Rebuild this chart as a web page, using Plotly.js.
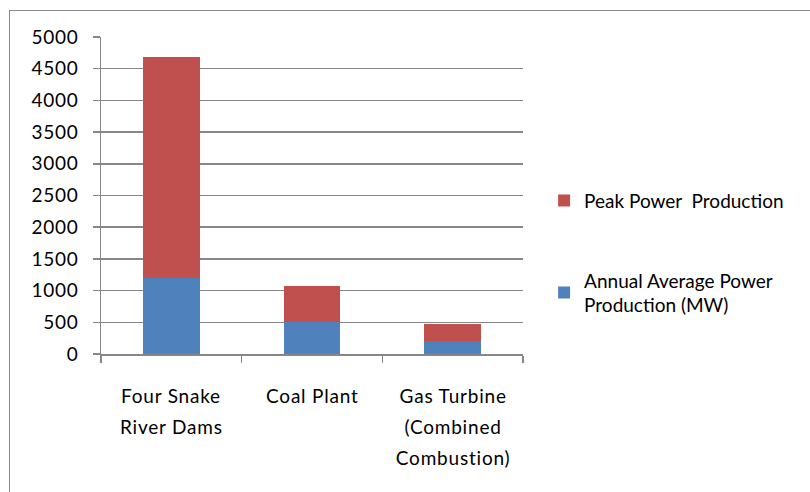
<!DOCTYPE html>
<html>
<head>
<meta charset="utf-8">
<script src="https://cdn.plot.ly/plotly-3.0.1.min.js"></script>
<style>
  html, body { margin: 0; padding: 0; background: #fff; overflow: hidden; }
  #wrap { position: relative; width: 810px; height: 492px; overflow: hidden; }
  #chart { position: absolute; left: 0; top: 0; width: 810px; height: 492px; }
  #frame { position: absolute; left: 9px; top: 10px; width: 820px; height: 500px; border: 1px solid #8a8a8a; pointer-events: none; }
  #chart text { letter-spacing: 0.8px; }
  #chart .legend text { letter-spacing: 0px; }
</style>
</head>
<body>
<div id="wrap">
  <div id="chart"></div>
  <div id="frame"></div>
</div>
<script>
const categories = ["Four Snake River Dams", "Coal Plant", "Gas Turbine (Combined Combustion)"];
const categoryLines = [["Four Snake", "River Dams"], ["Coal Plant"], ["Gas Turbine", "(Combined", "Combustion)"]];
const annualAverage = [1200, 500, 200];
const peakPower = [3480, 580, 275];
const seriesNames = ["Annual Average Power<br>Production (MW)", "Peak Power  Production"];
const yTicks = [0, 500, 1000, 1500, 2000, 2500, 3000, 3500, 4000, 4500, 5000];

const FONT = "Lato, Carlito, Calibri, 'Open Sans', sans-serif";
const FS = 19;

const traces = [
  { type: "bar", x: categories, y: annualAverage, name: seriesNames[0], legendgroup: "g2", legendrank: 2,
    marker: { color: "#4F81BD", line: { width: 0 } } },
  { type: "bar", x: categories, y: peakPower, name: seriesNames[1], legendgroup: "g1", legendrank: 1,
    marker: { color: "#C0504D", line: { width: 0 } } }
];

const annotations = [];
categoryLines.forEach((lines, i) => {
  lines.forEach((t, j) => {
    annotations.push({
      x: categories[i], xref: "x", y: 0, yref: "paper",
      yanchor: "middle", xanchor: "center",
      yshift: -41 - 31 * j, text: t, showarrow: false,
      font: { family: FONT, size: FS, color: "#000" }
    });
  });
});

const layout = {
  width: 810, height: 492,
  margin: { l: 101, r: 287, t: 37, b: 138 },
  paper_bgcolor: "#fff", plot_bgcolor: "#fff",
  barmode: "stack", bargap: 0.595,
  font: { family: FONT, size: FS, color: "#000" },
  showlegend: true,
  legend: {
    x: 1.05, xanchor: "left", y: 0.318, yanchor: "middle",
    traceorder: "grouped", tracegroupgap: 52,
    font: { family: FONT, size: FS, color: "#000" },
    itemwidth: 30, bgcolor: "rgba(0,0,0,0)"
  },
  xaxis: {
    type: "category", showticklabels: false, tickson: "boundaries",
    ticks: "outside", ticklen: 7, tickwidth: 1.5, tickcolor: "#868686",
    showline: true, linecolor: "#868686", linewidth: 1.5,
    showgrid: false, zeroline: false, fixedrange: true
  },
  yaxis: {
    range: [0, 5000], tickvals: yTicks, ticktext: yTicks.map(String),
    ticks: "outside", ticklen: 7, tickwidth: 1.5, tickcolor: "#868686",
    ticklabelstandoff: 10,
    showline: true, linecolor: "#868686", linewidth: 1.5,
    showgrid: true, gridcolor: "#868686", gridwidth: 1.5,
    zeroline: false, fixedrange: true,
    tickfont: { family: FONT, size: FS, color: "#000" }
  },
  annotations: annotations
};

Plotly.newPlot("chart", traces, layout, { displayModeBar: false, staticPlot: true });
</script>
</body>
</html>
